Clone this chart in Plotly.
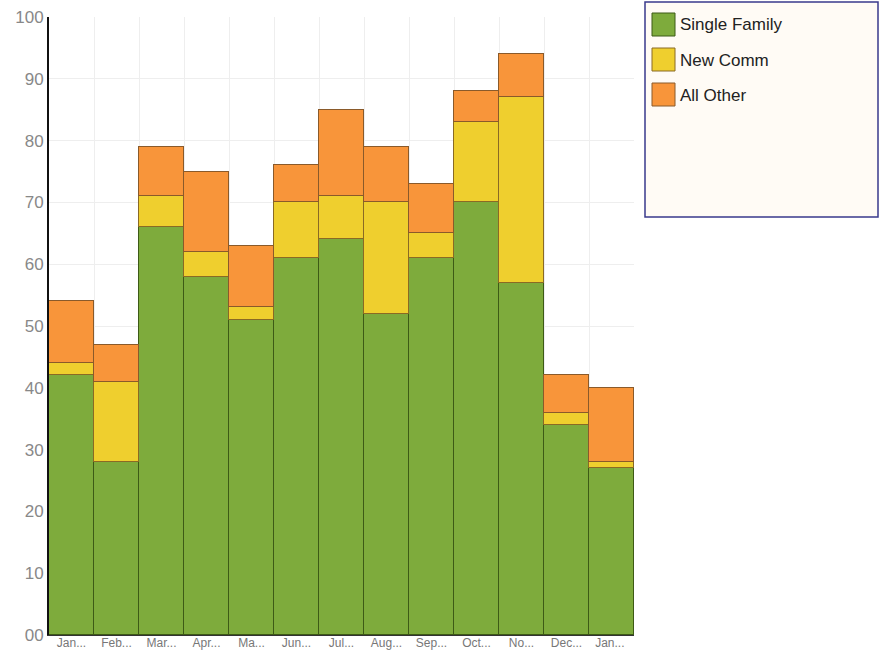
import plotly.graph_objects as go

categories = ["Jan...", "Feb...", "Mar...", "Apr...", "Ma...", "Jun...", "Jul...",
              "Aug...", "Sep...", "Oct...", "No...", "Dec...", "Jan... "]
single_family = [42, 28, 66, 58, 51, 61, 64, 52, 61, 70, 57, 34, 27]
new_comm = [2, 13, 5, 4, 2, 9, 7, 18, 4, 13, 30, 2, 1]
all_other = [10, 6, 8, 13, 10, 6, 14, 9, 8, 5, 7, 6, 12]
y_ticks = [0, 10, 20, 30, 40, 50, 60, 70, 80, 90, 100]
y_tick_text = ["00", "10", "20", "30", "40", "50", "60", "70", "80", "90", "100"]

L, R, T, B = 49, 634, 17, 635
W, H = R - L, B - T


def px(x):
    return (x - L) / W


def py(y):
    return (B - y) / H


fig = go.Figure()
series = [
    ("Single Family", single_family, "#7eab3c", "#3d5a16"),
    ("New Comm", new_comm, "#efcf2e", "#8a6a24"),
    ("All Other", all_other, "#f8953a", "#8a5a2a"),
]
shapes = [dict(
    type="rect", xref="paper", yref="paper",
    x0=px(645), x1=px(878), y0=py(217), y1=py(2),
    line=dict(color="#3a3a8c", width=1.5), fillcolor="#fffbf5", layer="below",
)]
annotations = []
for i, (name, vals, col, line) in enumerate(series):
    fig.add_trace(go.Bar(
        x=categories, y=vals, name=name, showlegend=False,
        marker=dict(color=col, line=dict(color=line, width=1)),
    ))
    top = 13 + 35 * i
    shapes.append(dict(
        type="rect", xref="paper", yref="paper",
        x0=px(652), x1=px(675), y0=py(top + 23), y1=py(top),
        line=dict(color=line, width=1), fillcolor=col,
    ))
    annotations.append(dict(
        xref="paper", yref="paper", x=px(678), y=py(top + 12),
        xanchor="left", yanchor="middle", text=name, showarrow=False,
        font=dict(size=17, color="#222222"),
    ))

fig.update_layout(
    barmode="stack", bargap=0,
    width=879, height=653,
    margin=dict(l=L, r=879 - R, t=T, b=653 - B, autoexpand=False),
    paper_bgcolor="white", plot_bgcolor="white",
    font=dict(family="Liberation Sans, Arial, sans-serif"),
    showlegend=False,
    shapes=shapes, annotations=annotations,
)
fig.update_xaxes(
    tickson="boundaries", showgrid=True, gridcolor="#eeeeee",
    tickfont=dict(size=12, color="#777777"), ticks="", showline=True,
    linecolor="#333333", linewidth=1, automargin=False, ticklabelstandoff=-3,
)
fig.update_yaxes(
    range=[0, 100], tickvals=y_ticks, ticktext=y_tick_text,
    showgrid=True, gridcolor="#eeeeee",
    tickfont=dict(size=17, color="#888888"), automargin=False,
    showline=True, linecolor="#111111", linewidth=2, zeroline=False,
)
fig.write_html("out.html")
